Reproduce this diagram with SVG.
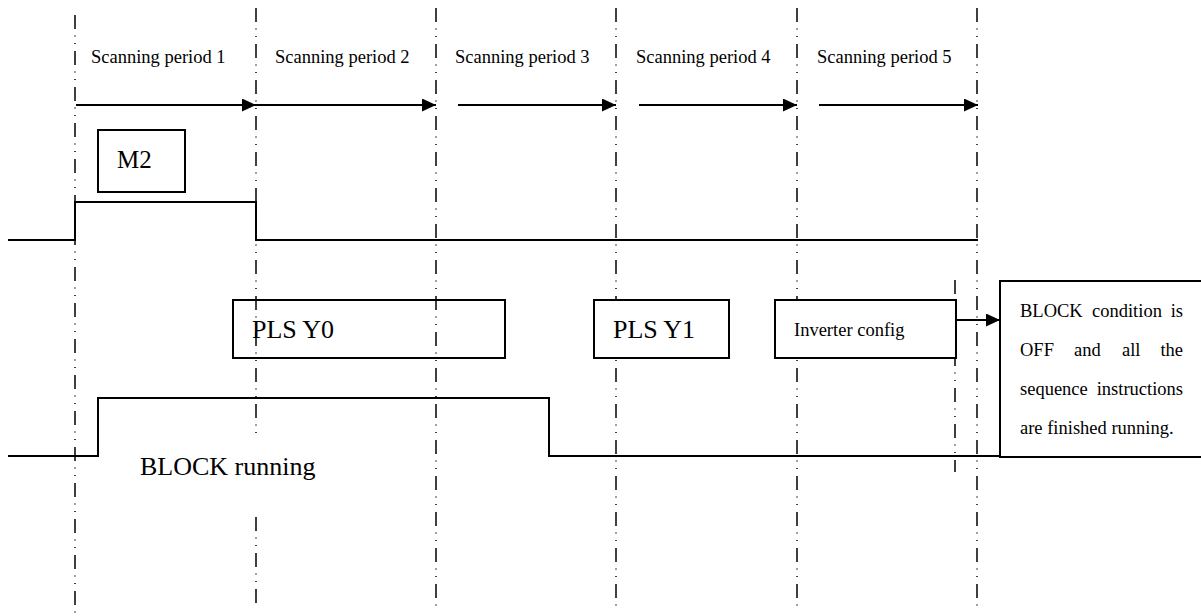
<svg xmlns="http://www.w3.org/2000/svg" width="1201" height="616" viewBox="0 0 1201 616">
<style>
  .grid { stroke: #000; stroke-width: 1.5; stroke-dasharray: 14 6.5 1 6.5 1 7; fill: none; }
  .sig { stroke: #000; stroke-width: 2; fill: none; }
  .arr { stroke: #000; stroke-width: 2; fill: none; marker-end: url(#ah); }
  .box { stroke: #000; stroke-width: 2; fill: #fff; }
  .boxn { stroke: #000; stroke-width: 2; fill: none; }
  text { font-family: "Liberation Serif", "Times New Roman", serif; fill: #000; }
  .sm { font-size: 18.5px; }
  .lg { font-size: 26px; }
</style>
<defs>
  <marker id="ah" markerUnits="userSpaceOnUse" markerWidth="15" markerHeight="14" refX="14" refY="6.5" orient="auto">
    <path d="M0,0 L14,6.5 L0,13 z" fill="#000"/>
  </marker>
</defs>
<rect width="1201" height="616" fill="#fff"/>
<g id="gridlines">
  <line class="grid" x1="75" y1="15" x2="75" y2="616"/>
  <line class="grid" x1="256" y1="8" x2="256" y2="437"/>
  <line class="grid" x1="256" y1="517" x2="256" y2="608"/>
  <line class="grid" x1="436" y1="8" x2="436" y2="608"/>
  <line class="grid" x1="616" y1="8" x2="616" y2="608"/>
  <line class="grid" x1="797" y1="8" x2="797" y2="608"/>
  <line class="grid" x1="977" y1="8" x2="977" y2="608"/>
  <line class="grid" x1="955" y1="280" x2="955" y2="472"/>
</g>
<g id="labels" class="sm">
  <text x="91" y="63">Scanning period 1</text>
  <text x="275" y="63">Scanning period 2</text>
  <text x="455" y="63">Scanning period 3</text>
  <text x="636" y="63">Scanning period 4</text>
  <text x="817" y="63">Scanning period 5</text>
</g>
<g id="connectors">
  <line class="arr" x1="76" y1="105" x2="256" y2="105"/>
  <line class="arr" x1="256" y1="105" x2="436" y2="105"/>
  <line class="arr" x1="458" y1="105" x2="616" y2="105"/>
  <line class="arr" x1="639" y1="105" x2="797" y2="105"/>
  <line class="arr" x1="819" y1="105" x2="978" y2="105"/>
  <line class="arr" x1="956" y1="320" x2="1000" y2="320"/>
</g>
<g id="m2-signal">
  <polyline class="sig" points="8,240 75,240 75,202 256,202 256,240 978,240"/>
</g>
<g id="block-signal">
  <polyline class="sig" points="8,456 98,456 98,398 549,398 549,456 1023,456"/>
</g>
<g id="m2">
  <rect class="box" x="98" y="130" width="87" height="62"/>
  <text x="117" y="168" style="font-size:25px">M2</text>
</g>
<g id="pls-y0">
  <rect class="boxn" x="233" y="300" width="272" height="58"/>
  <text class="lg" x="252" y="338">PLS Y0</text>
</g>
<g id="pls-y1">
  <rect class="box" x="594" y="300" width="135" height="58"/>
  <text class="lg" x="613" y="338">PLS Y1</text>
</g>
<g id="inverter">
  <rect class="box" x="775" y="300" width="181" height="58"/>
  <text class="sm" x="794" y="336">Inverter config</text>
</g>
<g id="block-off">
  <rect class="box" x="1000" y="281" width="215" height="176"/>
  <g class="sm">
    <text x="1020" y="317">BLOCK</text>
    <text x="1092" y="317">condition</text>
    <text x="1183" y="317" text-anchor="end">is</text>
    <text x="1020" y="356">OFF</text>
    <text x="1074" y="356">and</text>
    <text x="1122" y="356">all</text>
    <text x="1183" y="356" text-anchor="end">the</text>
    <text x="1020" y="395">sequence</text>
    <text x="1183" y="395" text-anchor="end">instructions</text>
    <text x="1020" y="434">are finished running.</text>
  </g>
</g>
<g id="block-running">
  <text class="lg" x="140" y="475">BLOCK running</text>
</g>
</svg>
